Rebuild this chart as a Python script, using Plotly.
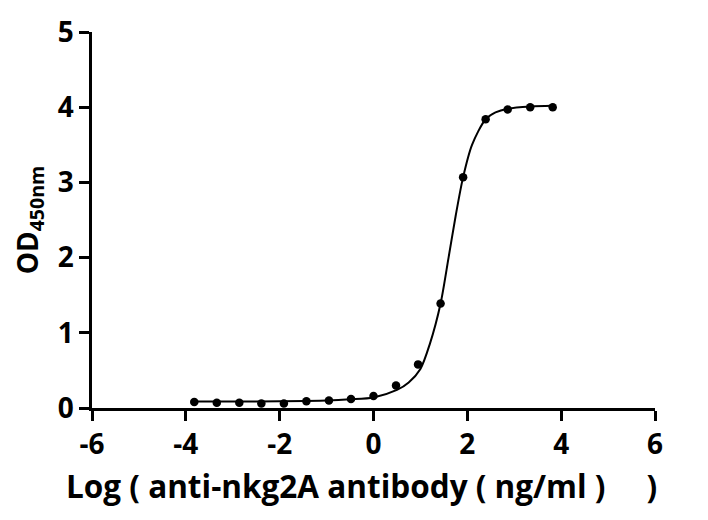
import plotly.graph_objects as go

# measured points (log concentration vs OD450)
log_conc = [-3.82, -3.34, -2.86, -2.39, -1.91, -1.43, -0.95, -0.48, 0.0,
            0.48, 0.95, 1.43, 1.91, 2.39, 2.86, 3.34, 3.82]
od450 = [0.08, 0.07, 0.07, 0.06, 0.06, 0.09, 0.10, 0.12, 0.16,
         0.30, 0.58, 1.39, 3.07, 3.84, 3.97, 4.00, 4.00]

# fitted curve
fit_x = [-3.82, -3.0, -2.0, -1.0, -0.5, 0.0, 0.5, 0.75, 1.0, 1.2, 1.43,
         1.6, 1.75, 1.91, 2.1, 2.39, 2.6, 2.86, 3.34, 3.82]
fit_y = [0.085, 0.085, 0.09, 0.10, 0.115, 0.14, 0.24, 0.34, 0.52, 0.85, 1.39,
         2.0, 2.55, 3.07, 3.5, 3.84, 3.93, 3.98, 4.01, 4.02]

x_ticks = [-6, -4, -2, 0, 2, 4, 6]
x_labels = ["-6", "-4", "-2", "0", "2", "4", "6"]
y_ticks = [0, 1, 2, 3, 4, 5]

font_name = "Open Sans"
sp = "\u00a0"

fig = go.Figure()

fig.add_trace(go.Scatter(
    x=fit_x, y=fit_y, mode="lines",
    line=dict(color="black", width=2, shape="spline", smoothing=0.8),
    hoverinfo="skip", showlegend=False
))

fig.add_trace(go.Scatter(
    x=log_conc, y=od450, mode="markers",
    marker=dict(color="black", size=8.5),
    showlegend=False
))

axis_common = dict(
    showline=True, linecolor="black", linewidth=2.5,
    ticks="outside", ticklen=10, tickwidth=2.5, tickcolor="black",
    showgrid=False, zeroline=False, automargin=False,
    tickfont=dict(family=font_name, size=28, color="black", weight="bold"),
)

fig.update_xaxes(range=[-6, 6], tickvals=x_ticks, ticktext=x_labels, **axis_common)
fig.update_yaxes(
    range=[0, 5], tickvals=y_ticks,
    title=dict(
        text="OD<sub>450nm</sub>",
        font=dict(family=font_name, size=28, color="black", weight="bold"),
        standoff=18,
    ),
    **axis_common
)

# x title as an annotation: in the original it sits a little left of centre
fig.add_annotation(
    text=f"Log{sp}({sp}anti-nkg2A antibody{sp}({sp}ng/ml{sp}){sp*5})",
    xref="paper", yref="paper", x=0.478, y=-0.207,
    xanchor="center", yanchor="middle", showarrow=False,
    font=dict(family=font_name, size=31.5, color="black", weight="bold"),
)

# page body has an 8px margin, so the figure is drawn 8px in from the corner
fig.update_layout(
    width=700, height=512,
    margin=dict(l=84, r=53, t=24, b=112),
    plot_bgcolor="white", paper_bgcolor="white",
)

fig.write_html("out.html")
